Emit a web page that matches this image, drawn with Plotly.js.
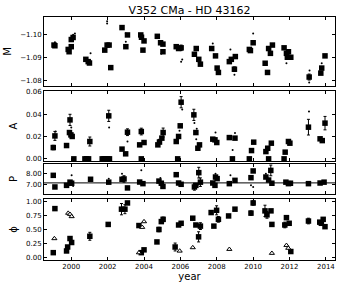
<!DOCTYPE html>
<html><head><meta charset="utf-8">
<script src="https://cdn.plot.ly/plotly-3.0.1.min.js"></script>
<style>body{margin:0;padding:0;background:#fff}#chart{width:338px;height:284px}</style>
</head><body><div id="chart"></div>
<script>
// ---- M panel ----
const mSqYear = [1999.05,1999.1,1999.83,1999.88,2000.0,2000.1,2000.0,2000.8,2000.93,2001.0,2001.84,2001.97,2002.08,2002.17,2002.79,2003.09,2003.0,2003.82,2003.86,2004.0,2003.94,2004.73,2004.91,2005.04,2005.04,2005.77,2005.9,2006.04,2006.77,2006.87,2007.01,2007.1,2007.72,2007.93,2008.02,2008.09,2008.69,2008.8,2008.97,2009.02,2009.79,2009.85,2010.0,2010.66,2010.79,2010.85,2010.95,2011.06,2011.7,2011.83,2011.94,2012.07,2011.88,2013.08,2013.72,2013.77,2013.95];
const mSqVal  = [-1.0953,-1.0950,-1.0934,-1.0924,-1.0977,-1.0986,-1.0946,-1.0891,-1.0881,-1.0875,-1.0931,-1.0953,-1.0953,-1.0855,-1.1029,-1.0997,-1.0946,-1.0997,-1.0987,-1.0971,-1.0931,-1.0991,-1.0963,-1.0957,-1.0924,-1.0946,-1.0938,-1.0941,-1.0913,-1.0938,-1.0891,-1.0870,-1.0938,-1.0906,-1.0853,-1.0834,-1.0881,-1.0891,-1.0848,-1.0903,-1.0934,-1.0929,-1.0963,-1.0874,-1.0834,-1.0938,-1.0917,-1.0953,-1.0941,-1.0917,-1.0924,-1.0900,-1.0900,-1.0814,-1.0831,-1.0853,-1.0906];
const mSqErr  = [0.0005,0,0,0,0.0005,0.0005,0,0,0.0005,0,0,0,0,0.0004,0,0,0.0004,0,0,0,0,0,0,0,0,0,0,0.0012,0.0007,0,0,0,0,0,0,0,0.0005,0,0.0010,0,0,0,0,0,0,0,0,0,0,0,0,0,0,0.0013,0,0.0006,0.0006];
const mDotYear = [2001.97,2001.97,2000.2,2001.06,2003.0,2003.0,2006.04,2006.1,2007.78,2008.75,2008.97,2010.0,2011.83,2013.77,2000.1,1999.1,2004.95,2007.0,2006.8,2010.9,2013.1,2013.08];
const mDotVal  = [-1.1057,-1.1047,-1.1003,-1.0917,-1.1003,-1.0967,-1.0881,-1.0890,-1.0960,-1.0934,-1.0824,-1.1003,-1.0874,-1.0874,-1.0998,-1.0965,-1.0915,-1.0880,-1.0905,-1.0925,-1.0842,-1.0790];

// ---- A panel ----
const aSqYear = [1999.01,1999.1,1999.74,1999.93,1999.9,1999.98,2000.05,2000.14,2000.75,2000.85,2000.95,2001.02,2001.7,2001.8,2001.9,2002.0,2002.1,2002.06,2002.79,2002.99,2003.09,2003.76,2003.85,2003.85,2004.0,2004.76,2004.85,2004.98,2005.05,2005.77,2005.85,2005.9,2005.99,2006.04,2006.74,2006.85,2006.96,2007.05,2007.78,2007.9,2008.0,2008.69,2008.86,2009.0,2009.79,2009.91,2010.03,2010.7,2010.8,2010.85,2011.0,2011.7,2011.76,2011.94,2012.02,2013.04,2013.68,2013.8,2013.95];
const aSqVal  = [0.0101,0.0205,0.0119,0.0348,0.0235,0.0214,0.0200,0,0,0,0,0.0155,0,0,0,0,0,0.0384,0.0087,0.0045,0.0238,0.0125,0.0244,0,0.0146,0.0125,0.0150,0.0185,0.0235,0.0155,0,0.0200,0.0295,0.0506,0.0393,0.0235,0.0095,0.0125,0.0176,0.0170,0.0146,0.0190,0,0.0185,0,0.0074,0.0149,0.0065,0.0095,0,0.0140,0,0.0060,0.0155,0.0140,0.0283,0.0179,0.0163,0.0319];
const aSqErr  = [0.002,0.004,0,0.005,0,0,0,0,0,0,0,0.004,0,0,0,0,0,0.005,0,0,0.003,0,0.003,0,0,0,0,0,0.004,0,0,0,0,0.005,0.005,0,0,0,0,0,0,0,0,0,0,0,0,0,0,0,0,0,0,0,0,0.007,0,0,0.006];
const aDotYear = [1999.14,2002.08,2003.09,2013.07,2008.87,2007.93,2009.0,2006.87,2006.77,2006.9,2005.95,2006.1,2000.0,2004.8];
const aDotVal  = [0.0244,0.0280,0.0155,0.0422,0.0080,0.0235,0.0230,0.0176,0.0320,0.0270,0.0250,0.0440,0.0280,0.0170];

// ---- P panel ----
const pSqYear = [1999.01,1999.1,1999.74,1999.93,2000.02,2001.06,2002.06,2002.79,2002.9,2003.09,2003.76,2003.94,2004.82,2004.95,2005.04,2005.77,2005.9,2006.04,2006.77,2006.85,2007.01,2007.1,2007.78,2007.93,2008.02,2007.9,2008.69,2009.0,2009.88,2010.0,2010.7,2010.85,2010.97,2011.03,2011.8,2011.94,2012.05,2013.04,2013.68,2013.9];
const pSqVal  = [7.84,6.75,6.90,7.20,7.10,7.47,7.20,7.47,7.50,6.66,7.21,7.06,7.30,7.10,6.80,7.90,7.12,7.00,6.75,6.90,8.09,7.20,7.12,7.68,7.53,6.90,7.06,7.37,7.62,8.25,7.68,7.40,8.30,7.10,7.20,7.06,7.10,7.06,7.12,7.20];
const pSqErr  = [0,0,0,0,0,0,0,0,0.3,0,0,0,0,0,0,0,0,0,0.3,0,0.5,0.4,0,0,0,0,0,0,0,0,0,0,0.5,0,0,0,0,0,0,0];
const pDotYear = [2000.02,2002.06,2002.79,2003.85,2007.01,2007.93,2008.75,2009.88,2010.0,2010.7,2000.1,2004.9];
const pDotVal  = [7.84,7.53,8.00,8.31,7.00,8.00,7.84,6.90,6.75,8.00,6.85,7.60];
const pMean = 7.13;

// ---- phi panel ----
const phiSqYear = [1999.01,1999.1,1999.74,1999.8,1999.93,2000.02,2001.02,2002.03,2002.76,2002.95,2003.09,2003.72,2003.85,2004.0,2004.71,2004.82,2004.95,2005.05,2005.71,2005.9,2006.04,2006.68,2006.85,2007.0,2007.1,2007.69,2007.84,2007.99,2008.09,2008.65,2009.0,2009.88,2010.0,2010.65,2010.76,2010.98,2011.03,2011.74,2011.83,2011.98,2012.07,2013.04,2013.66,2013.75,2013.85,2013.95];
const phiSqVal  = [0.09,0.87,0.12,0.19,0.34,0.27,0.38,0.59,0.86,0.86,0.97,0.57,0.09,0.14,0.28,0.50,0.64,0.68,0.19,0.58,0.61,0.70,0.58,0.37,0.56,0.80,0.56,0.84,0.68,0.74,0.86,0.79,0.97,0.83,0.76,0.83,0.59,0.58,0.71,0.61,0.11,0.65,0.63,0.61,0.68,0.55];
const phiSqErr  = [0,0,0,0,0,0,0.07,0,0.10,0.08,0,0,0,0,0,0.04,0,0.04,0.07,0,0,0,0,0.09,0.06,0,0,0.08,0.05,0,0,0.04,0.04,0.10,0.06,0,0,0.05,0,0,0,0.05,0,0,0,0];
const phiTriYear = [1999.07,1999.83,1999.93,2000.02,2003.72,2003.9,2004.0,2005.96,2006.68,2008.69,2011.03,2011.83,2011.93];
const phiTriVal  = [0.34,0.79,0.77,0.73,0.09,0.54,0.64,0.12,0.18,0.15,0.08,0.22,0.17];

const tickFont = {family:'DejaVu Sans', size:7, color:'#000'};
const labFont = {family:'DejaVu Sans', size:10, color:'#000'};

function sq(x, y, err, xa, ya){
  return {x:x, y:y, type:'scatter', mode:'markers', xaxis:xa, yaxis:ya,
    marker:{symbol:'square', size:5.5, color:'#000', line:{width:0}},
    error_y:{type:'data', array:err, visible:true, color:'#000', thickness:1, width:1.5},
    showlegend:false, hoverinfo:'skip'};
}
function dot(x, y, xa, ya){
  return {x:x, y:y, type:'scatter', mode:'markers', xaxis:xa, yaxis:ya,
    marker:{symbol:'circle', size:2, color:'#000'}, showlegend:false, hoverinfo:'skip'};
}

const traces = [
  dot(mDotYear, mDotVal, 'x', 'y'),
  sq(mSqYear, mSqVal, mSqErr, 'x', 'y'),
  dot(aDotYear, aDotVal, 'x2', 'y2'),
  sq(aSqYear, aSqVal, aSqErr, 'x2', 'y2'),
  {x:[1998.5, 2014.5], y:[pMean, pMean], type:'scatter', mode:'lines', xaxis:'x3', yaxis:'y3',
   line:{color:'#000', width:1}, showlegend:false, hoverinfo:'skip'},
  dot(pDotYear, pDotVal, 'x3', 'y3'),
  sq(pSqYear, pSqVal, pSqErr, 'x3', 'y3'),
  sq(phiSqYear, phiSqVal, phiSqErr, 'x4', 'y4'),
  {x:phiTriYear, y:phiTriVal, type:'scatter', mode:'markers', xaxis:'x4', yaxis:'y4',
   marker:{symbol:'triangle-up', size:4.5, color:'#fff', line:{color:'#000', width:1}},
   showlegend:false, hoverinfo:'skip'}
];

const xr = [1998.5, 2014.5];
function xax(anchor, showLabels){
  return {range:xr, anchor:anchor, domain:[0,1], showgrid:false, zeroline:false,
    showline:true, linecolor:'#000', linewidth:1, mirror:'ticks',
    ticks:'inside', ticklen:3, tickcolor:'#000', tickwidth:1,
    tickvals:[2000,2002,2004,2006,2008,2010,2012,2014],
    showticklabels:showLabels, tickfont:tickFont};
}
function yax(anchor, domain, range, tickvals, fmt, title, standoff){
  return {range:range, anchor:anchor, domain:domain, showgrid:false, zeroline:false,
    showline:true, linecolor:'#000', linewidth:1, mirror:'ticks',
    ticks:'inside', ticklen:3, tickcolor:'#000', tickwidth:1,
    tickvals:tickvals, tickformat:fmt, tickfont:tickFont,
    title:{text:title, font:labFont, standoff:standoff}};
}

const layout = {
  width:338, height:284, paper_bgcolor:'#fff', plot_bgcolor:'#fff',
  margin:{l:44, r:3, t:17, b:24},
  title:{text:'V352 CMa - HD 43162', font:{family:'DejaVu Sans', size:11, color:'#000'},
         x:0.5, xanchor:'center', xref:'paper', y:0.965, yanchor:'middle'},
  xaxis: xax('y', false),
  xaxis2: xax('y2', false),
  xaxis3: xax('y3', false),
  xaxis4: Object.assign(xax('y4', true), {title:{text:'year', font:labFont, standoff:2}}),
  yaxis: yax('x', [0.716,1], [-1.0775,-1.1075], [-1.10,-1.09,-1.08], '.2f', 'M', 6),
  yaxis2: yax('x2', [0.407,0.695], [-0.002,0.0605], [0,0.02,0.04,0.06], '.2f', 'A', 6),
  yaxis3: yax('x3', [0.272,0.395], [6.1,8.9], [7,8], '.2f', 'P', 6),
  yaxis4: yax('x4', [0,0.251], [-0.04,1.04], [0,0.25,0.5,0.75,1.0], '.2f', 'ϕ', 6)
};

Plotly.newPlot('chart', traces, layout, {staticPlot:true, displayModeBar:false});
</script></body></html>
